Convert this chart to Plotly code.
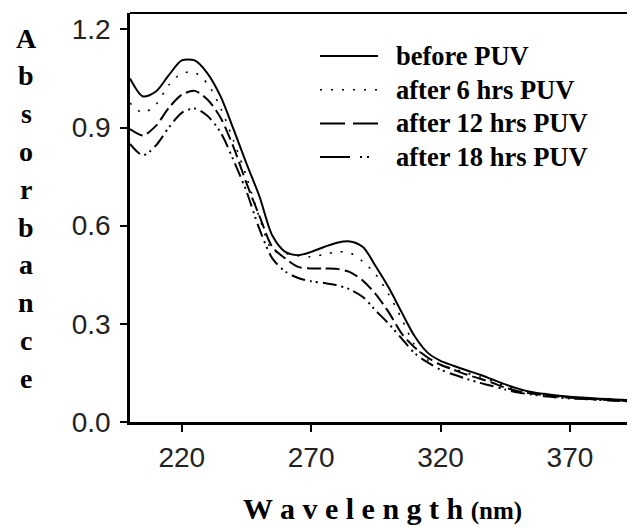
import plotly.graph_objects as go

wavelength = [200, 205, 210, 215, 220, 225, 230, 235, 240, 245, 250, 255, 260, 265, 270,
              275, 280, 285, 290, 295, 300, 305, 310, 315, 320, 325, 330, 335, 340, 345,
              350, 355, 360, 365, 370, 375, 380, 385, 390, 395, 400]

before_puv = [1.05, 0.995, 1.01, 1.06, 1.105, 1.105, 1.065, 0.995, 0.895, 0.79, 0.69, 0.57,
              0.52, 0.51, 0.52, 0.535, 0.548, 0.552, 0.535, 0.475, 0.41, 0.335, 0.262, 0.212,
              0.187, 0.172, 0.158, 0.145, 0.13, 0.115, 0.102, 0.092, 0.086, 0.081, 0.077,
              0.075, 0.072, 0.07, 0.068, 0.066, 0.065]

after_6h = [0.975, 0.945, 0.97, 1.03, 1.065, 1.068, 1.033, 0.96, 0.86, 0.75, 0.625, 0.525,
            0.515, 0.508, 0.505, 0.512, 0.52, 0.517, 0.49, 0.45, 0.39, 0.315, 0.235, 0.19,
            0.175, 0.162, 0.15, 0.138, 0.125, 0.11, 0.098, 0.09, 0.084, 0.08, 0.076,
            0.073, 0.071, 0.069, 0.067, 0.065, 0.064]

after_12h = [0.895, 0.876, 0.905, 0.96, 1.0, 1.012, 0.985, 0.93, 0.84, 0.73, 0.63, 0.535,
             0.5, 0.474, 0.469, 0.469, 0.468, 0.458, 0.432, 0.39, 0.335, 0.27, 0.228, 0.197,
             0.175, 0.16, 0.145, 0.133, 0.12, 0.105, 0.094, 0.087, 0.082, 0.078, 0.074,
             0.071, 0.069, 0.067, 0.065, 0.063, 0.062]

after_18h = [0.85, 0.815, 0.845, 0.9, 0.945, 0.958, 0.935, 0.885, 0.80, 0.705, 0.59, 0.5,
             0.46, 0.44, 0.43, 0.425, 0.418, 0.405, 0.382, 0.34, 0.30, 0.255, 0.21, 0.182,
             0.16, 0.145, 0.132, 0.12, 0.11, 0.099, 0.09, 0.084, 0.079, 0.075, 0.072,
             0.07, 0.068, 0.066, 0.064, 0.062, 0.061]

series_names = ["before PUV", "after 6 hrs PUV", "after 12 hrs PUV", "after 18 hrs PUV"]
x_ticks = [220, 270, 320, 370]
y_ticks = [0.0, 0.3, 0.6, 0.9, 1.2]
y_tick_labels = ["0.0", "0.3", "0.6", "0.9", "1.2"]
y_title = "Absorbance"

# the page body has an 8px margin, so the figure is 8px smaller and coordinates shifted
OFF = 8
W, H = 635 - OFF, 527 - OFF
L, R, T, B = 130 - OFF, 0, 13 - OFF, 527 - 422
pw, ph = W - L - R, H - T - B


def px_x(x):
    return (x - OFF - L) / pw


def px_y(y):
    return (T + ph - (y - OFF)) / ph


curve_dashes = ["solid", "2px,9px", "14px,5px", "14px,5px,2px,4px,2px,5px"]
legend_dashes = ["solid", "2px,9px", "25px,8px", "30px,10px,2px,5px,2px,20px"]
widths = [2, 1.6, 2, 2]
all_series = [before_puv, after_6h, after_12h, after_18h]

fig = go.Figure()
for name, ys, d, w in zip(series_names, all_series, curve_dashes, widths):
    fig.add_trace(go.Scatter(x=wavelength, y=ys, mode="lines", name=name, showlegend=False,
                             line=dict(color="black", width=w, dash=d, shape="spline",
                                       smoothing=0.8)))

tickfont = dict(family="Liberation Sans", size=28, color="#222")

fig.update_layout(
    width=W, height=H,
    margin=dict(l=L, r=R, t=T, b=B, autoexpand=False),
    paper_bgcolor="white", plot_bgcolor="white",
    xaxis=dict(range=[200, 200 + pw / 2.588], tickvals=x_ticks, ticks="outside", ticklen=7,
               tickwidth=2, tickcolor="black", showline=True, linecolor="black", linewidth=2.5,
               showgrid=False, zeroline=False, tickfont=tickfont, ticklabelstandoff=2),
    yaxis=dict(range=[0, 1.25], tickvals=y_ticks, ticktext=y_tick_labels, ticks="outside",
               ticklen=7, tickwidth=2, tickcolor="black", showline=True, linecolor="black",
               linewidth=2.5, showgrid=False, zeroline=False, tickfont=tickfont,
               ticklabelstandoff=4),
    showlegend=False,
)

# top border
fig.add_shape(type="line", xref="paper", yref="paper", x0=0, x1=1, y0=1, y1=1,
              line=dict(color="black", width=2))

# legend (drawn as line samples + text)
legend_font = dict(family="Liberation Serif", size=26.5, color="black", weight="bold")
for i, (name, d, w) in enumerate(zip(series_names, legend_dashes, widths)):
    yy = px_y(56 + 33.7 * i)
    fig.add_shape(type="line", xref="paper", yref="paper", x0=px_x(320), x1=px_x(378),
                  y0=yy, y1=yy, line=dict(color="black", width=w, dash=d))
    fig.add_annotation(text=name, xref="paper", yref="paper", x=px_x(394), y=yy,
                       xanchor="left", yanchor="middle", showarrow=False, font=legend_font)

# vertical stacked y title
serif_bold = dict(family="Liberation Serif", size=28, color="black", weight="bold")
for i, ch in enumerate(y_title):
    fig.add_annotation(text=ch, xref="paper", yref="paper",
                       x=px_x(26), y=px_y(38 + 37.8 * i),
                       xanchor="center", yanchor="middle", showarrow=False, font=serif_bold)

# x title, centred under the plot area
fig.add_annotation(text="W a v e l e n g t h <span style='font-size:25px'>(nm)</span>",
                   xref="paper", yref="paper", x=0.5, y=px_y(508),
                   xanchor="center", yanchor="middle", showarrow=False,
                   font=dict(family="Liberation Serif", size=30, color="black", weight="bold"))

fig.write_html("out.html")
